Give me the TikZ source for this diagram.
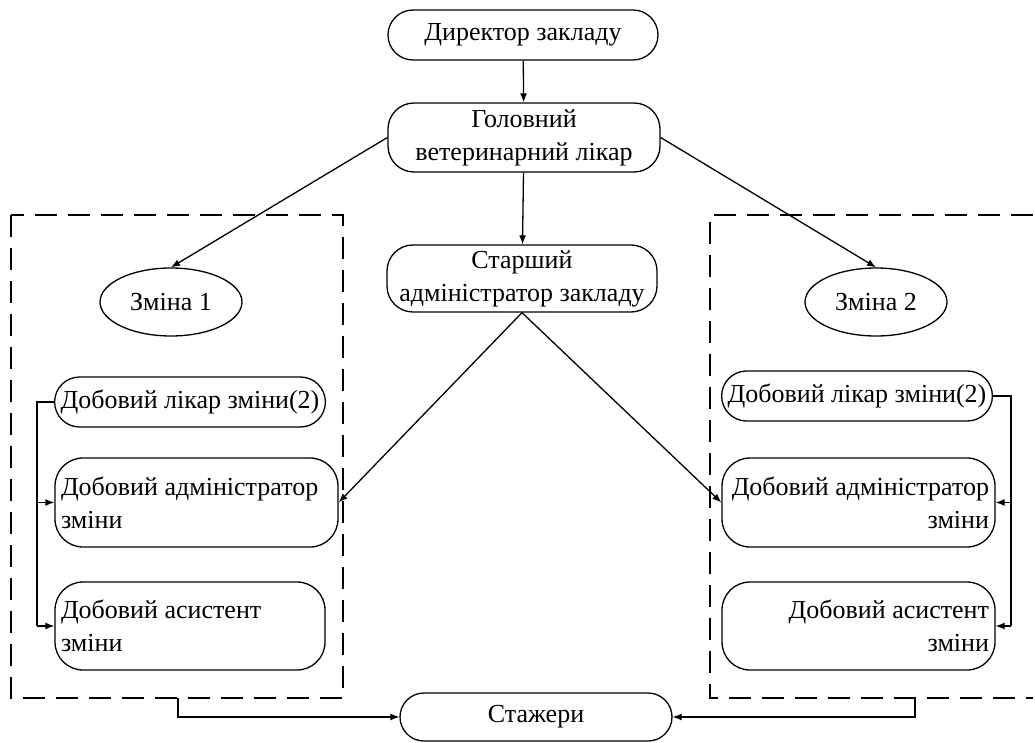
\documentclass[tikz,border=0pt]{standalone}
\usepackage{fontspec}
\setmainfont{Liberation Serif}
\usetikzlibrary{arrows.meta,shapes.geometric}
\begin{document}
\begin{tikzpicture}[x=1pt,y=-1pt,
  font=\fontsize{26}{33}\selectfont,
  every node/.style={line width=1.3pt},
  rbox/.style={draw, rectangle, inner sep=0pt, inner xsep=6pt},
  oval/.style={draw, ellipse, inner sep=0pt, minimum width=142pt, minimum height=68pt},
  arr/.style={line width=1.3pt, -{Latex[length=9pt,width=7pt]}},
  link/.style={line width=1.3pt},
  group/.style={line width=1.3pt, dash pattern=on 22pt off 11pt}]
\useasboundingbox (0,0) rectangle (1035,743);

% dashed frames of the two shifts
\draw[group] (11,215) rectangle (343,698);
\draw[group] (1033,215) -- (710,215) -- (710,698) -- (1033,698);

% management
\node[rbox, minimum width=270pt, minimum height=50pt, rounded corners=25pt] (dir) at (523,35) {Директор закладу};
\node[rbox, minimum width=272pt, minimum height=69pt, rounded corners=26pt, align=center] (chief) at (524,137.5) {Головний\\ветеринарний лікар};
\node[rbox, minimum width=270pt, minimum height=67pt, rounded corners=26pt, align=center] (senior) at (522,278.5) {Старший\\адміністратор закладу};

% shifts
\node[oval] (sh1) at (171,302) {Зміна 1};
\node[oval] (sh2) at (876,302) {Зміна 2};

% left shift staff
\node[rbox, minimum width=270pt, minimum height=50pt, rounded corners=25pt] (ldoc) at (190,402) {Добовий лікар зміни(2)};
\node[rbox, minimum width=283pt, minimum height=89pt, rounded corners=28pt, text width=271pt, align=flush left] (ladm) at (196.5,502.5) {Добовий адміністратор\\зміни};
\node[rbox, minimum width=270pt, minimum height=88pt, rounded corners=28pt, text width=258pt, align=flush left] (lasst) at (190,626) {Добовий асистент\\зміни};

% right shift staff
\node[rbox, minimum width=270pt, minimum height=50pt, rounded corners=25pt] (rdoc) at (857,396) {Добовий лікар зміни(2)};
\node[rbox, minimum width=273pt, minimum height=89pt, rounded corners=28pt, text width=261pt, align=flush right] (radm) at (858.5,502.5) {Добовий адміністратор\\зміни};
\node[rbox, minimum width=273pt, minimum height=88pt, rounded corners=28pt, text width=261pt, align=flush right] (rasst) at (858.5,626) {Добовий асистент\\зміни};

% trainees
\node[rbox, minimum width=272pt, minimum height=48pt, rounded corners=24pt] (train) at (536,717) {Стажери};

% bus lines and frame outlets
\coordinate (lbus) at (37,0);
\coordinate (rbus) at (1011,0);
\coordinate (lout) at (178,698);
\coordinate (rout) at (915,698);

% connectors
\draw[arr] (dir) -- (chief);
\draw[arr] (chief) -- (senior);
\draw[arr] (chief.west) -- (sh1.north);
\draw[arr] (chief.east) -- (sh2.north);
\draw[arr] (senior.south) -- (ladm.east);
\draw[arr] (senior.south) -- (radm.west);

\draw[link] (ldoc.west) -- (ldoc.west -| lbus) -- (lasst.west -| lbus);
\draw[arr] (ladm.west -| lbus) -- (ladm.west);
\draw[arr] (lasst.west -| lbus) -- (lasst.west);

\draw[link] (rdoc.east) -- (rdoc.east -| rbus) -- (rasst.east -| rbus);
\draw[arr] (radm.east -| rbus) -- (radm.east);
\draw[arr] (rasst.east -| rbus) -- (rasst.east);

\draw[arr] (lout) |- (train.west);
\draw[arr] (rout) |- (train.east);
\end{tikzpicture}
\end{document}
